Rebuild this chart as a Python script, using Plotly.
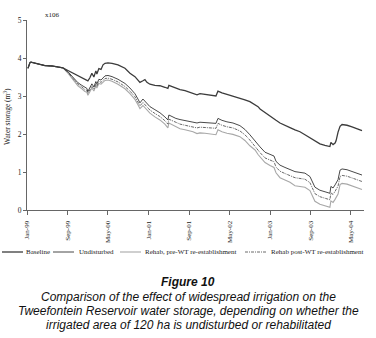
import plotly.graph_objects as go

dates = [
    "1999-01-07", "1999-01-19", "1999-01-25", "1999-03-08", "1999-04-19", "1999-05-31", "1999-07-06", "1999-08-05",
    "1999-09-04", "1999-10-04", "1999-11-03", "1999-11-27", "1999-12-03", "1999-12-15", "1999-12-27", "2000-01-02",
    "2000-01-14", "2000-01-26", "2000-02-07", "2000-02-19", "2000-02-25", "2000-03-08", "2000-03-21", "2000-04-02",
    "2000-04-14", "2000-05-02", "2000-05-26", "2000-07-01", "2000-08-12", "2000-09-11", "2000-10-11", "2000-10-29",
    "2000-11-10", "2000-11-28", "2000-12-10", "2000-12-22", "2001-01-09", "2001-02-08", "2001-03-10", "2001-04-09",
    "2001-04-21", "2001-04-27", "2001-05-03", "2001-05-21", "2001-06-14", "2001-07-09", "2001-08-08", "2001-09-07",
    "2001-09-25", "2001-10-19", "2001-11-06", "2001-12-06", "2002-01-05", "2002-01-29", "2002-02-10", "2002-02-22",
    "2002-03-18", "2002-04-17", "2002-05-23", "2002-07-04", "2002-08-03", "2002-09-02", "2002-10-03", "2002-10-21",
    "2002-11-02", "2002-12-02", "2003-01-01", "2003-01-25", "2003-02-06", "2003-03-02", "2003-04-01", "2003-05-01",
    "2003-05-31", "2003-06-30", "2003-07-30", "2003-08-29", "2003-09-16", "2003-09-28", "2003-10-28", "2003-11-27",
    "2003-12-15", "2003-12-27", "2004-01-02", "2004-01-15", "2004-01-27", "2004-02-02", "2004-02-14", "2004-02-26",
    "2004-03-09", "2004-04-08", "2004-05-08", "2004-06-07", "2004-07-07",
]

baseline = [
    3.73, 3.88, 3.89, 3.84, 3.80, 3.79, 3.77, 3.74,
    3.67, 3.60, 3.53, 3.47, 3.45, 3.43, 3.41, 3.40,
    3.48, 3.60, 3.50, 3.66, 3.58, 3.72, 3.70, 3.82,
    3.86, 3.87, 3.86, 3.82, 3.73, 3.60, 3.51, 3.40,
    3.36, 3.40, 3.43, 3.36, 3.31, 3.28, 3.27, 3.23,
    3.21, 3.20, 3.28, 3.25, 3.22, 3.17, 3.14, 3.09,
    3.05, 3.03, 3.06, 3.04, 3.01, 2.99, 3.00, 3.13,
    3.08, 3.04, 3.00, 2.95, 2.90, 2.85, 2.78, 2.72,
    2.66, 2.56, 2.46, 2.40, 2.36, 2.29, 2.22, 2.17,
    2.11, 2.06, 1.98, 1.90, 1.84, 1.80, 1.74, 1.70,
    1.68, 1.67, 1.78, 1.72, 1.76, 1.82, 2.05, 2.20,
    2.25, 2.23, 2.19, 2.14, 2.09,
]

undisturbed = [
    3.73, 3.88, 3.89, 3.84, 3.80, 3.79, 3.77, 3.74,
    3.64, 3.50, 3.35, 3.28, 3.26, 3.22, 3.20, 3.12,
    3.22, 3.32, 3.24, 3.38, 3.32, 3.44, 3.42, 3.49,
    3.53, 3.54, 3.51, 3.44, 3.33, 3.21, 3.06, 2.92,
    2.82, 2.92, 2.86, 2.80, 2.72, 2.64, 2.56, 2.45,
    2.40, 2.37, 2.50, 2.46, 2.41, 2.38, 2.35, 2.32,
    2.30, 2.29, 2.31, 2.30, 2.28, 2.27, 2.28, 2.41,
    2.36, 2.32, 2.29, 2.22, 2.12, 1.98, 1.82, 1.70,
    1.66, 1.52, 1.47, 1.42, 1.28, 1.18, 1.12, 1.06,
    1.01, 0.99, 0.97, 0.88, 0.72, 0.60, 0.52, 0.47,
    0.45, 0.44, 0.62, 0.58, 0.66, 0.70, 0.80, 1.05,
    1.08, 1.06, 1.02, 0.97, 0.92,
]

rehab_post = [
    3.73, 3.88, 3.89, 3.84, 3.80, 3.79, 3.77, 3.74,
    3.62, 3.47, 3.31, 3.24, 3.21, 3.17, 3.15, 3.07,
    3.16, 3.26, 3.18, 3.32, 3.26, 3.38, 3.36, 3.42,
    3.46, 3.47, 3.44, 3.37, 3.25, 3.13, 2.98, 2.84,
    2.74, 2.83, 2.77, 2.71, 2.63, 2.54, 2.46, 2.35,
    2.29, 2.26, 2.39, 2.35, 2.30, 2.26, 2.23, 2.20,
    2.18, 2.16, 2.18, 2.17, 2.15, 2.14, 2.15, 2.28,
    2.23, 2.19, 2.16, 2.08, 1.98, 1.84, 1.67, 1.55,
    1.51, 1.37, 1.32, 1.27, 1.13, 1.02, 0.96, 0.90,
    0.85, 0.83, 0.81, 0.72, 0.55, 0.43, 0.35, 0.30,
    0.28, 0.27, 0.45, 0.41, 0.49, 0.53, 0.63, 0.88,
    0.91, 0.89, 0.85, 0.80, 0.75,
]

rehab_pre = [
    3.73, 3.88, 3.89, 3.84, 3.80, 3.79, 3.77, 3.74,
    3.60, 3.44, 3.27, 3.19, 3.16, 3.12, 3.10, 3.02,
    3.11, 3.21, 3.13, 3.27, 3.21, 3.33, 3.31, 3.37,
    3.41, 3.42, 3.39, 3.31, 3.19, 3.06, 2.91, 2.77,
    2.67, 2.75, 2.69, 2.63, 2.55, 2.45, 2.37, 2.26,
    2.19, 2.16, 2.29, 2.25, 2.20, 2.14, 2.11, 2.08,
    2.06, 2.01, 2.03, 2.02, 2.00, 1.97, 1.98, 2.11,
    2.06, 2.02, 1.99, 1.93, 1.83, 1.69, 1.58, 1.46,
    1.40, 1.25, 1.17, 1.12, 0.98, 0.85, 0.79, 0.73,
    0.64, 0.62, 0.60, 0.51, 0.35, 0.23, 0.15, 0.10,
    0.08, 0.07, 0.24, 0.20, 0.28, 0.32, 0.42, 0.67,
    0.70, 0.68, 0.64, 0.59, 0.54,
]

tick_dates = ["1999-01-01", "1999-09-01", "2000-05-01", "2001-01-01", "2001-09-01",
              "2002-05-01", "2003-01-01", "2003-09-01", "2004-05-01"]
tick_labels = ["Jan-99", "Sep-99", "May-00", "Jan-01", "Sep-01",
               "May-02", "Jan-03", "Sep-03", "May-04"]

series_names = ["Baseline", "Undisturbed", "Rehab, pre-WT re-establishment", "Rehab post-WT re-establishment"]

W, H = 376, 338
L, R, T, B = 27, 12, 20, 128
PW, PH = W - L - R, H - T - B

def px(x):
    return (x - L) / PW

def py(y):
    return (H - B - y) / PH

SERIF = "Liberation Serif, Times New Roman, serif"
SANS = "Liberation Sans, Arial, sans-serif"

styles = {
    "Baseline": dict(color="#3c3c3c", width=1.3, dash="solid"),
    "Undisturbed": dict(color="#1a1a1a", width=0.8, dash="solid"),
    "Rehab, pre-WT re-establishment": dict(color="#a8a8a8", width=1.1, dash="solid"),
    "Rehab post-WT re-establishment": dict(color="#444444", width=0.8, dash="3px,1px,1px,1px"),
}

fig = go.Figure()
for name, vals in [(series_names[2], rehab_pre), (series_names[3], rehab_post),
                   (series_names[1], undisturbed), (series_names[0], baseline)]:
    fig.add_trace(go.Scatter(x=dates, y=vals, mode="lines", name=name,
                             line=styles[name], showlegend=False, hoverinfo="skip"))

fig.update_layout(
    width=W, height=H,
    margin=dict(l=L, r=R, t=T, b=B, pad=0),
    paper_bgcolor="white", plot_bgcolor="white",
    font=dict(family=SERIF, size=7, color="#222"),
    showlegend=False,
)
fig.update_xaxes(
    type="date", range=["1999-01-01", "2004-07-19"],
    tickvals=tick_dates, ticktext=tick_labels, tickangle=-90,
    ticks="outside", ticklen=4, tickcolor="#666", tickwidth=1,
    ticklabelstandoff=3,
    showline=True, linecolor="#666", linewidth=1, showgrid=False, zeroline=False,
    tickfont=dict(family=SERIF, size=7, color="#222"),
)
fig.update_yaxes(
    range=[0, 5], tickvals=[0, 1, 2, 3, 4, 5], ticktext=["0", "1", "2", "3", "4", "5"],
    ticks="outside", ticklen=3, tickcolor="#666", tickwidth=1,
    showline=True, linecolor="#666", linewidth=1, showgrid=False, zeroline=False,
    tickfont=dict(family=SERIF, size=7.5, color="#222"),
)

ann = []
ann.append(dict(text="Water storage (m<sup>3</sup>)", xref="paper", yref="paper",
                x=px(7), y=py(117), xanchor="center", yanchor="middle", textangle=-90,
                showarrow=False, font=dict(family=SERIF, size=7.5, color="#222")))
ann.append(dict(text="x106", xref="paper", yref="paper", x=px(43), y=py(15),
                xanchor="left", yanchor="middle", showarrow=False,
                font=dict(family=SERIF, size=7, color="#222")))

leg_y = 252
leg_items = [(series_names[0], 2, 23, 24), (series_names[1], 53, 74, 77),
             (series_names[2], 120, 141, 143), (series_names[3], 245, 266, 269)]
shapes = []
for name, x0, x1, xt in leg_items:
    st = styles[name]
    shapes.append(dict(type="line", xref="paper", yref="paper", x0=px(x0), x1=px(x1),
                       y0=py(leg_y), y1=py(leg_y),
                       line=dict(color=st["color"], width=st["width"], dash=st["dash"])))
    ann.append(dict(text=name, xref="paper", yref="paper", x=px(xt), y=py(leg_y),
                    xanchor="left", yanchor="middle", showarrow=False,
                    font=dict(family=SERIF, size=7, color="#222")))

cap_lines = [
    ("<b><i>Figure 10</i></b>", 282),
    ("<i>Comparison of the effect of widespread irrigation on the</i>", 297),
    ("<i>Tweefontein Reservoir water storage, depending on whether the</i>", 311),
    ("<i>irrigated area of 120 ha is undisturbed or rehabilitated</i>", 325),
]
for txt, yy in cap_lines:
    ann.append(dict(text=txt, xref="paper", yref="paper", x=px(188), y=py(yy),
                    xanchor="center", yanchor="middle", showarrow=False,
                    font=dict(family=SANS, size=12, color="#111")))

fig.update_layout(annotations=ann, shapes=shapes)
fig.write_html("out.html", config={"displayModeBar": False},
               post_script="document.body.style.margin='0';document.body.style.overflow='hidden';")
